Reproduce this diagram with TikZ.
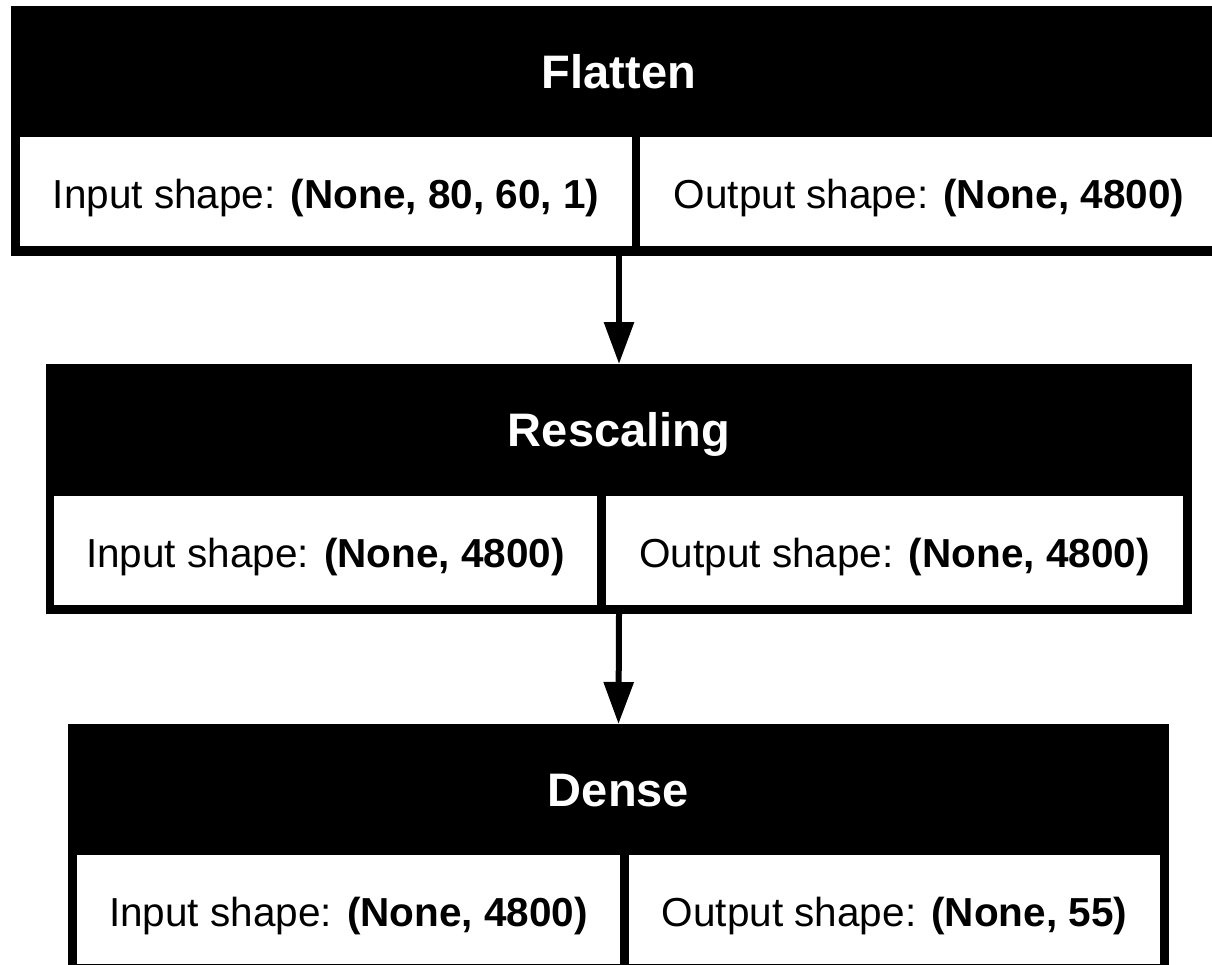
\documentclass[tikz,border=0pt]{standalone}
\usepackage{fontspec}
\setmainfont{Liberation Sans}
\usetikzlibrary{arrows.meta}
\tikzset{
  layerbox/.style={fill=black, draw=none, inner sep=0pt, outer sep=0pt, anchor=north west, minimum height=250pt},
  cell/.style={fill=white, draw=none, inner sep=0pt, outer sep=0pt, anchor=north west, minimum height=109pt},
  title/.style={text=white, inner sep=0pt, font=\bfseries\fontsize{47}{50}\selectfont, text height=33.6pt, text depth=0pt},
  lbl/.style={inner sep=0pt, font=\fontsize{40.5}{44}\selectfont, text height=29pt, text depth=0pt},
  conn/.style={line width=6pt, -{Triangle[length=42pt,width=29pt]}}
}
\begin{document}
\begin{tikzpicture}[x=1pt,y=-1pt]
\useasboundingbox (0,0) rectangle (1212,964);
\fill[white] (0,0) rectangle (1212,964);
\clip (0,0) rectangle (1212,964);
% Flatten
\node[layerbox, minimum width=1216pt] (flat) at (11,6) {};
\node[title] (flatT) at (619,71.5) {Flatten};
\node[cell, minimum width=612pt] (flatIn) at (20,137) {};
\node[cell, minimum width=578pt] (flatOut) at (640,137) {};
\node[lbl] at ([yshift=-2pt]flatIn.center) {Input shape: \textbf{(None, 80, 60, 1)}};
\node[lbl] at ([yshift=-2pt]flatOut.center) {Output shape: \textbf{(None, 4800)}};
% Rescaling
\node[layerbox, minimum width=1146pt] (resc) at (46,364) {};
\node[title] (rescT) at (619,430) {Rescaling};
\node[cell, minimum width=543pt] (rescIn) at (54,496) {};
\node[cell, minimum width=577pt] (rescOut) at (606,496) {};
\node[lbl] at ([yshift=-2pt]rescIn.center) {Input shape: \textbf{(None, 4800)}};
\node[lbl] at ([yshift=-2pt]rescOut.center) {Output shape: \textbf{(None, 4800)}};
% Dense
\node[layerbox, minimum width=1101pt] (dense) at (68,724) {};
\node[title] (denseT) at (618.5,789.5) {Dense};
\node[cell, minimum width=543pt] (denseIn) at (77,855) {};
\node[cell, minimum width=531pt] (denseOut) at (629,855) {};
\node[lbl] at ([yshift=-2pt]denseIn.center) {Input shape: \textbf{(None, 4800)}};
\node[lbl] at ([yshift=-2pt]denseOut.center) {Output shape: \textbf{(None, 55)}};
% connectors
\draw[conn] (flat.south) -- (resc.north);
\draw[conn] (resc.south) -- (dense.north);
\end{tikzpicture}
\end{document}
